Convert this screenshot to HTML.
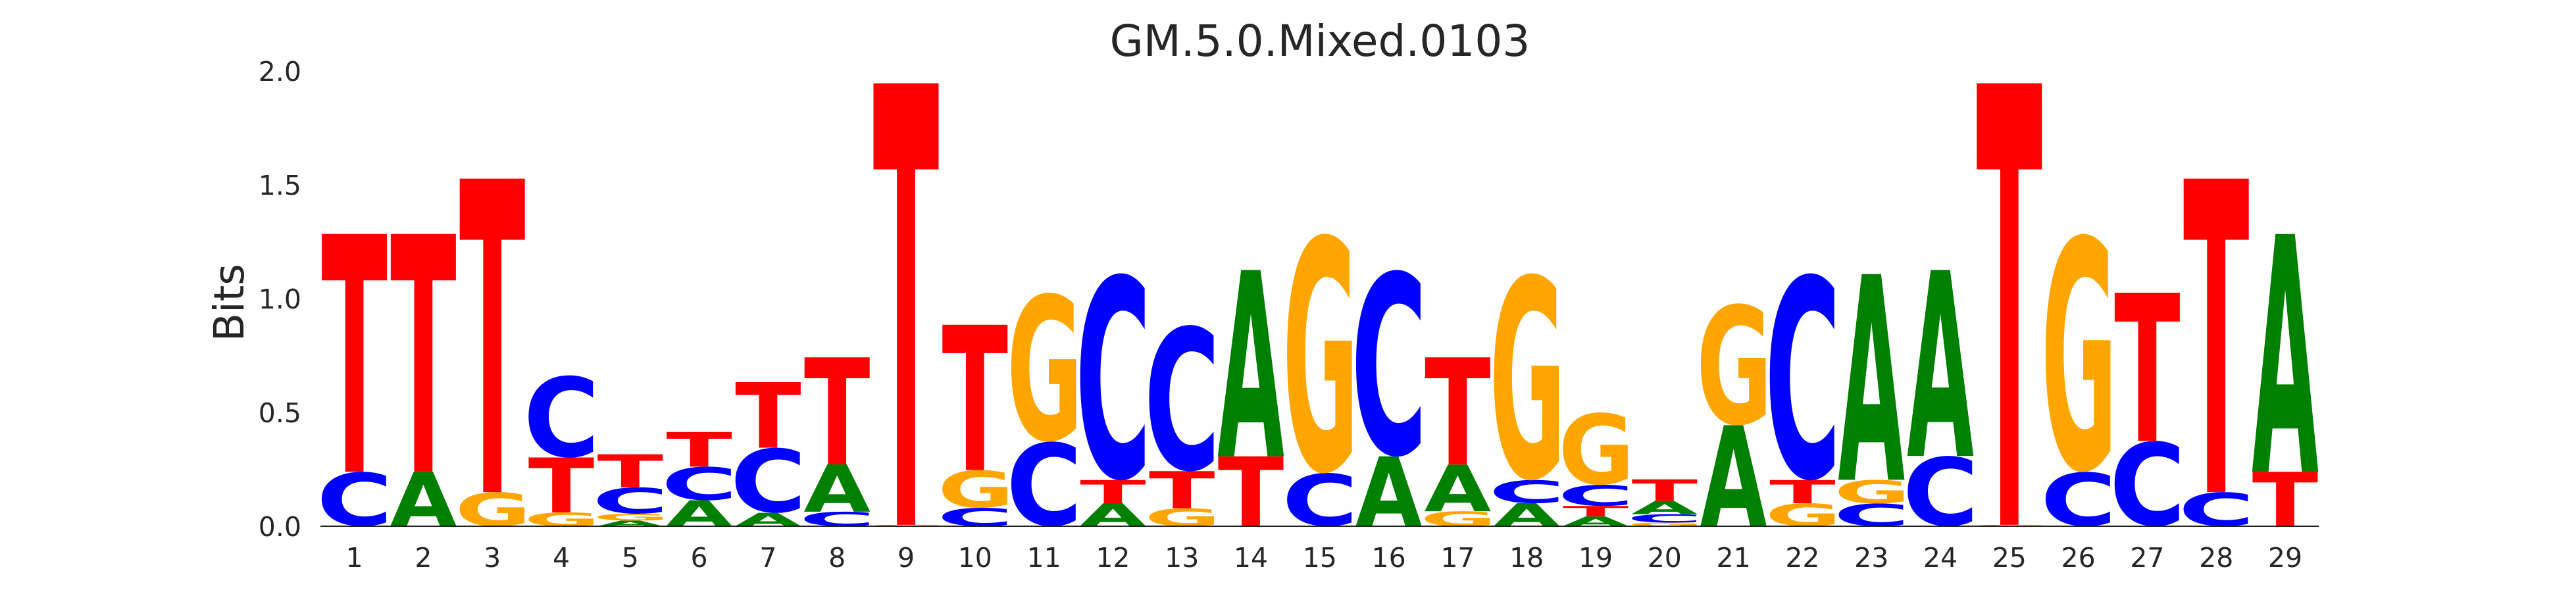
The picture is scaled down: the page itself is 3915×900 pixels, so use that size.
<!DOCTYPE html>
<html><head><meta charset="utf-8"><title>GM.5.0.Mixed.0103</title>
<style>html,body{margin:0;padding:0;background:#fff;width:3915px;height:900px;overflow:hidden;}svg{display:block;}</style>
</head><body>
<svg id="chart" width="3915" height="900" viewBox="0 0 3915 900" xmlns="http://www.w3.org/2000/svg" font-family="'DejaVu Sans','Liberation Sans',sans-serif" style="overflow:hidden">
<defs id="letterdefs"></defs>
<rect width="3915" height="900" fill="#fff"/>
<text x="2006" y="85" font-size="66" text-anchor="middle" fill="#262626">GM.5.0.Mixed.0103</text>
<text x="0" y="0" font-size="63" text-anchor="middle" fill="#262626" transform="translate(370,460) rotate(-90)">Bits</text>
<g id="yticks"></g><g id="xticks"></g><g id="marks"></g>
<line x1="487" y1="800" x2="3524" y2="800" stroke="#222" stroke-width="2"/>
</svg>
<script>
const positions = [1,2,3,4,5,6,7,8,9,10,11,12,13,14,15,16,17,18,19,20,21,22,23,24,25,26,27,28,29];
const aBits = [0,0.239,0,0,0.025,0.114,0.059,0.208,0.002,0,0,0.101,0,0.819,0,0.307,0.205,0.101,0.043,0.058,0.444,0,0.904,0.817,0.002,0,0,0,1.045];
const cBits = [0.239,0,0,0.361,0.116,0.148,0.286,0.064,0.002,0.081,0.372,0.908,0.642,0,0.234,0.819,0,0.102,0.093,0.037,0,0.908,0.1,0.309,0.002,0.239,0.375,0.15,0];
const gBits = [0,0,0.15,0.061,0.03,0,0,0,0.002,0.166,0.654,0,0.079,0,1.051,0,0.066,0.908,0.318,0.016,0.535,0.101,0.104,0,0.002,1.045,0,0,0];
const tBits = [1.045,1.045,1.377,0.241,0.145,0.152,0.288,0.47,1.94,0.638,0,0.102,0.163,0.307,0,0,0.471,0,0.046,0.095,0,0.102,0,0,1.94,0,0.651,1.377,0.239];
const yTickValues = [0,0.5,1,1.5,2];
const yTickLabels = ["0.0","0.5","1.0","1.5","2.0"];

const NS = "http://www.w3.org/2000/svg";
const y0 = 800, pxPerBit = 346;
const x1 = 538.6, step = 104.8, colW = 99.6;
function yScale(v){ return y0 - v*pxPerBit; }
function xScale(i){ return x1 + i*step; }
const colors = {A:"#008000",C:"#0000ff",G:"#ffa500",T:"#ff0000"};
const ink = {A:[0.008,0.766,0,0.729],C:[0.049,0.680,-0.013,0.742],G:[0.049,0.754,-0.013,0.742],T:[0.003,0.679,0,0.729]};

const yt = document.getElementById('yticks');
yTickValues.forEach((v,i)=>{
  const t = document.createElementNS(NS,'text');
  
  
  t.setAttribute('x',458); t.setAttribute('y',yScale(v)+15);
  t.setAttribute('font-size',41); t.setAttribute('text-anchor','end'); t.setAttribute('fill','#262626');
  t.textContent = yTickLabels[i]; yt.appendChild(t);
});
const xt = document.getElementById('xticks');
positions.forEach((p,i)=>{
  const t = document.createElementNS(NS,'text');
  
  
  t.setAttribute('x',xScale(i)); t.setAttribute('y',862);
  t.setAttribute('font-size',41); t.setAttribute('text-anchor','middle'); t.setAttribute('fill','#262626');
  t.textContent = p; xt.appendChild(t);
});
const defs = document.getElementById('letterdefs');
const marks = document.getElementById('marks');
let uid = 0;
positions.forEach((p,i)=>{
  const col = [['A',aBits[i]],['C',cBits[i]],['G',gBits[i]],['T',tBits[i]]].filter(d=>d[1]>0);
  col.sort((a,b)=>a[1]-b[1]);
  let base = 0;
  const g = document.createElementNS(NS,'g');
  
  
  col.forEach(([L,h])=>{
    const yb = yScale(base), yt2 = yScale(base+h);
    const hpx = yb - yt2;
    const [il,ir,ib,itop] = ink[L];
    const sx = colW/(ir-il), sy = hpx/(itop-ib);
    const xl = xScale(i) - colW/2;
    const id = 'lc' + (uid++);
    const cp = document.createElementNS(NS,'clipPath');
    cp.setAttribute('id', id);
    const t = document.createElementNS(NS,'text');
    
    
    t.setAttribute('font-size',1); t.setAttribute('font-weight','bold');
    t.setAttribute('font-family',"'DejaVu Sans','Liberation Sans',sans-serif");
    t.setAttribute('x',-il); t.setAttribute('y',ib);
    t.setAttribute('transform','translate('+xl+','+yb+') scale('+sx+','+sy+')');
    t.textContent = L;
    cp.appendChild(t);
    defs.appendChild(cp);
    const r = document.createElementNS(NS,'rect');
    
    
    r.setAttribute('x', xl - 2); r.setAttribute('y', yt2 - 2);
    r.setAttribute('width', colW + 4); r.setAttribute('height', Math.max(hpx + 4, 0));
    r.setAttribute('fill', colors[L]);
    r.setAttribute('clip-path','url(#'+id+')');
    g.appendChild(r);
    base += h;
  });
  marks.appendChild(g);
});
</script>
</body></html>
